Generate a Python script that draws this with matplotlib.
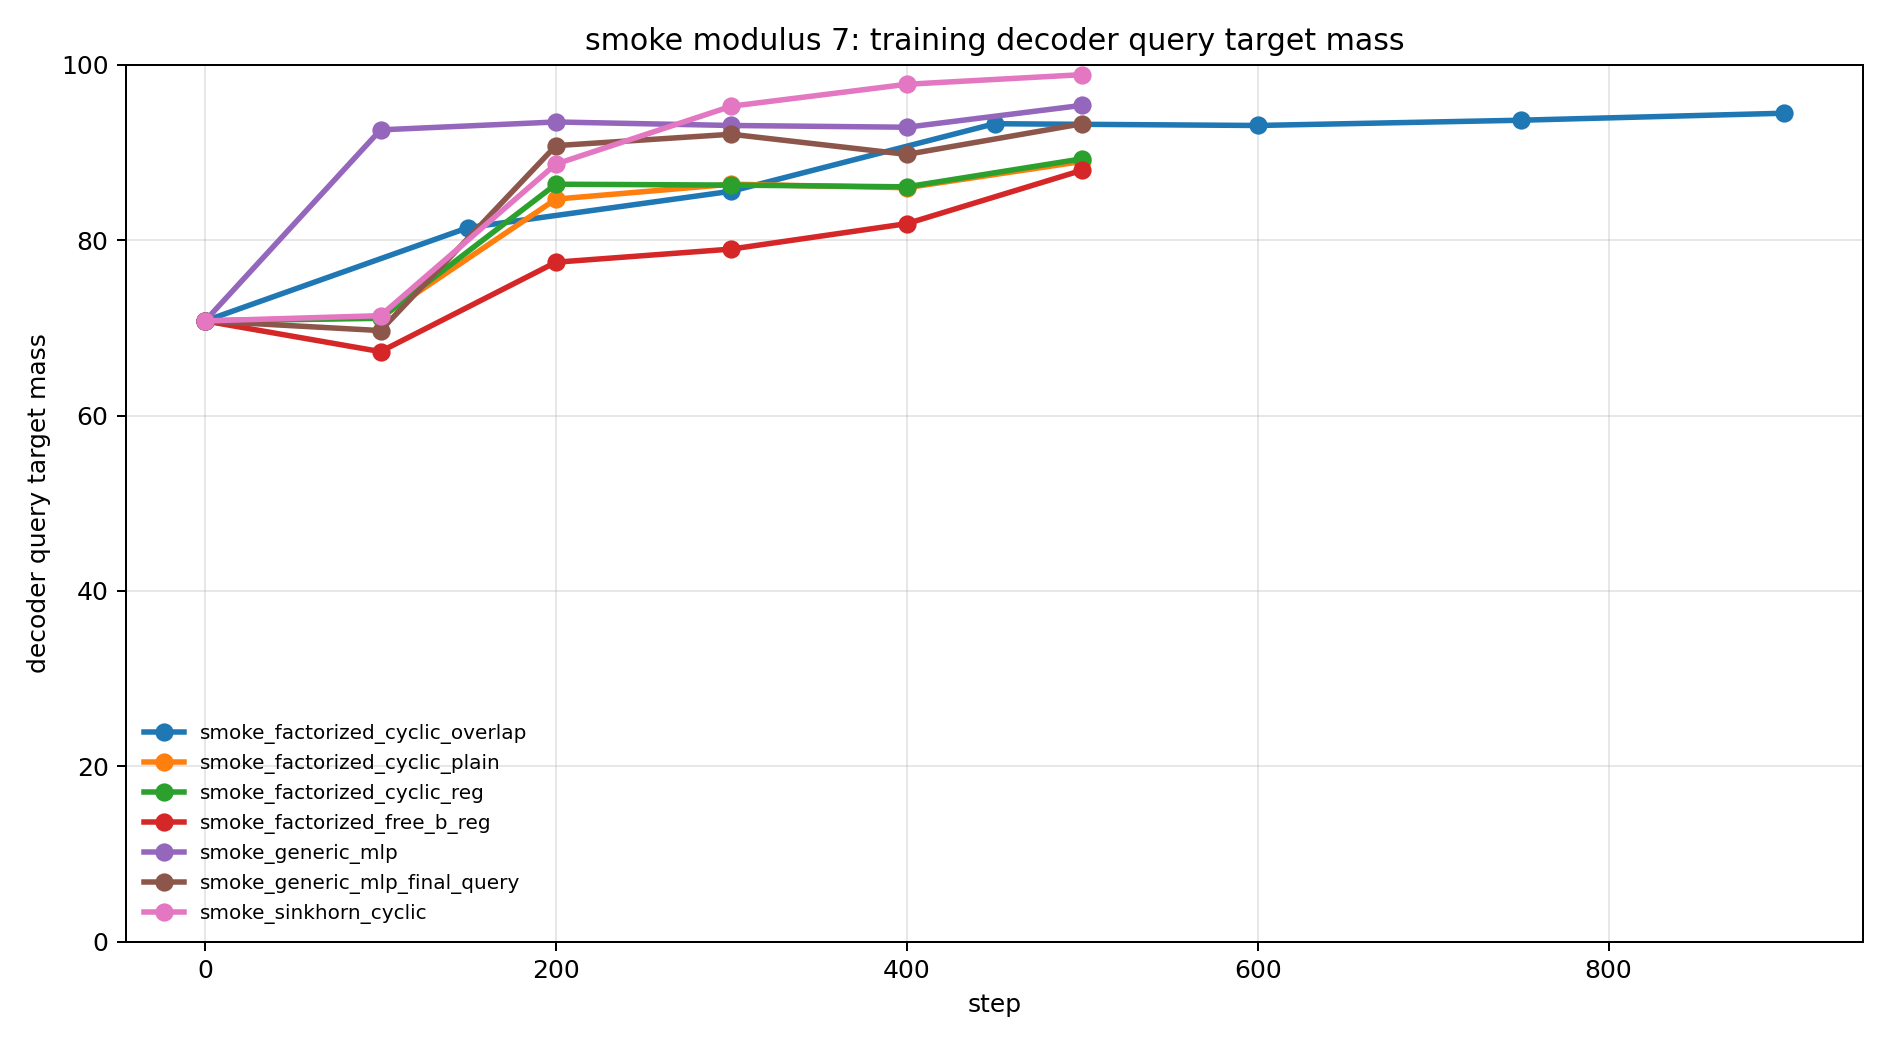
import matplotlib
matplotlib.use("Agg")
import matplotlib.pyplot as plt

names = [
    "smoke_factorized_cyclic_overlap",
    "smoke_factorized_cyclic_plain",
    "smoke_factorized_cyclic_reg",
    "smoke_factorized_free_b_reg",
    "smoke_generic_mlp",
    "smoke_generic_mlp_final_query",
    "smoke_sinkhorn_cyclic",
]

steps_overlap = [0, 150, 300, 450, 600, 750, 900]
vals_overlap = [70.8, 81.45, 85.6, 93.3, 93.1, 93.7, 94.5]

steps_short = [0, 100, 200, 300, 400, 500]
vals_plain = [70.8, 71.2, 84.7, 86.4, 86.0, 89.0]
vals_reg = [70.8, 71.1, 86.4, 86.3, 86.1, 89.3]
vals_free = [70.8, 67.3, 77.5, 79.0, 81.9, 88.0]
vals_mlp = [70.8, 92.6, 93.5, 93.1, 92.9, 95.4]
vals_mlp_fq = [70.8, 69.7, 90.8, 92.1, 89.8, 93.3]
vals_sink = [70.8, 71.4, 88.7, 95.3, 97.8, 98.9]

series = [
    (steps_overlap, vals_overlap),
    (steps_short, vals_plain),
    (steps_short, vals_reg),
    (steps_short, vals_free),
    (steps_short, vals_mlp),
    (steps_short, vals_mlp_fq),
    (steps_short, vals_sink),
]

fig, ax = plt.subplots(figsize=(10.5, 5.8), dpi=180)
for name, (xs, ys) in zip(names, series):
    ax.plot(xs, ys, marker="o", linewidth=2.2, markersize=6.3, label=name)

ax.set_ylim(0, 100)
ax.set_xlabel("step")
ax.set_ylabel("decoder query target mass")
ax.set_title("smoke modulus 7: training decoder query target mass")
ax.grid(True, alpha=0.3)
ax.legend(loc="lower left", frameon=False, fontsize=8)
fig.tight_layout()
fig.savefig("out.png", dpi=180)
